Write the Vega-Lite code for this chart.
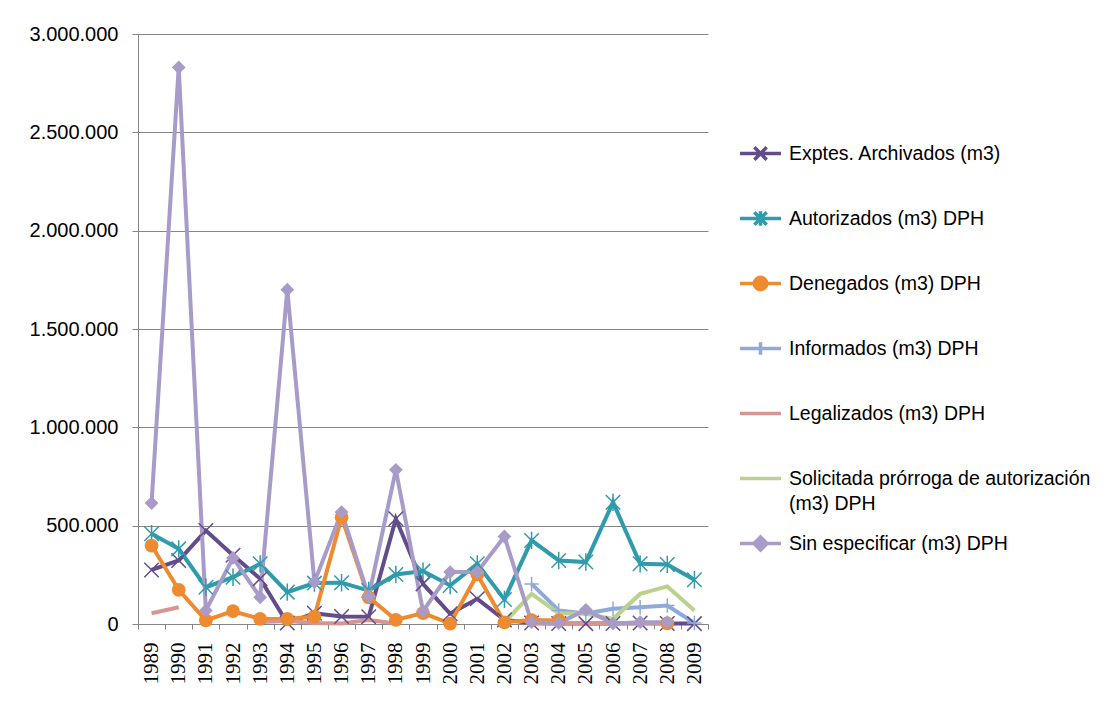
{
  "$schema": "https://vega.github.io/schema/vega-lite/v6.json",
  "width": 570,
  "height": 590,
  "autosize": {"type": "none"},
  "padding": {"left": 138, "top": 34, "right": 397, "bottom": 80},
  "background": "white",
  "config": {
    "view": {"stroke": null},
    "font": "Liberation Sans",
    "locale": {"number": {"decimal": ",", "thousands": ".", "grouping": [3], "currency": ["", " €"]}}
  },
  "data": {"values": [
    {"series": "Exptes. Archivados (m3)", "year": "1989", "value": 275000},
    {"series": "Exptes. Archivados (m3)", "year": "1990", "value": 323000},
    {"series": "Exptes. Archivados (m3)", "year": "1991", "value": 475000},
    {"series": "Exptes. Archivados (m3)", "year": "1992", "value": 350000},
    {"series": "Exptes. Archivados (m3)", "year": "1993", "value": 230000},
    {"series": "Exptes. Archivados (m3)", "year": "1994", "value": 5000},
    {"series": "Exptes. Archivados (m3)", "year": "1995", "value": 55000},
    {"series": "Exptes. Archivados (m3)", "year": "1996", "value": 38000},
    {"series": "Exptes. Archivados (m3)", "year": "1997", "value": 37000},
    {"series": "Exptes. Archivados (m3)", "year": "1998", "value": 535000},
    {"series": "Exptes. Archivados (m3)", "year": "1999", "value": 204000},
    {"series": "Exptes. Archivados (m3)", "year": "2000", "value": 52000},
    {"series": "Exptes. Archivados (m3)", "year": "2001", "value": 128000},
    {"series": "Exptes. Archivados (m3)", "year": "2002", "value": 21000},
    {"series": "Exptes. Archivados (m3)", "year": "2003", "value": 5000},
    {"series": "Exptes. Archivados (m3)", "year": "2004", "value": 3000},
    {"series": "Exptes. Archivados (m3)", "year": "2005", "value": 2000},
    {"series": "Exptes. Archivados (m3)", "year": "2006", "value": 3000},
    {"series": "Exptes. Archivados (m3)", "year": "2007", "value": 5000},
    {"series": "Exptes. Archivados (m3)", "year": "2008", "value": 3000},
    {"series": "Exptes. Archivados (m3)", "year": "2009", "value": 2000},
    {"series": "Autorizados (m3) DPH", "year": "1989", "value": 459000},
    {"series": "Autorizados (m3) DPH", "year": "1990", "value": 382000},
    {"series": "Autorizados (m3) DPH", "year": "1991", "value": 187000},
    {"series": "Autorizados (m3) DPH", "year": "1992", "value": 238000},
    {"series": "Autorizados (m3) DPH", "year": "1993", "value": 306000},
    {"series": "Autorizados (m3) DPH", "year": "1994", "value": 162000},
    {"series": "Autorizados (m3) DPH", "year": "1995", "value": 208000},
    {"series": "Autorizados (m3) DPH", "year": "1996", "value": 210000},
    {"series": "Autorizados (m3) DPH", "year": "1997", "value": 170000},
    {"series": "Autorizados (m3) DPH", "year": "1998", "value": 252000},
    {"series": "Autorizados (m3) DPH", "year": "1999", "value": 269000},
    {"series": "Autorizados (m3) DPH", "year": "2000", "value": 196000},
    {"series": "Autorizados (m3) DPH", "year": "2001", "value": 306000},
    {"series": "Autorizados (m3) DPH", "year": "2002", "value": 125000},
    {"series": "Autorizados (m3) DPH", "year": "2003", "value": 425000},
    {"series": "Autorizados (m3) DPH", "year": "2004", "value": 323000},
    {"series": "Autorizados (m3) DPH", "year": "2005", "value": 315000},
    {"series": "Autorizados (m3) DPH", "year": "2006", "value": 619000},
    {"series": "Autorizados (m3) DPH", "year": "2007", "value": 306000},
    {"series": "Autorizados (m3) DPH", "year": "2008", "value": 303000},
    {"series": "Autorizados (m3) DPH", "year": "2009", "value": 225000},
    {"series": "Denegados (m3) DPH", "year": "1989", "value": 399000},
    {"series": "Denegados (m3) DPH", "year": "1990", "value": 174000},
    {"series": "Denegados (m3) DPH", "year": "1991", "value": 18000},
    {"series": "Denegados (m3) DPH", "year": "1992", "value": 65000},
    {"series": "Denegados (m3) DPH", "year": "1993", "value": 26000},
    {"series": "Denegados (m3) DPH", "year": "1994", "value": 26000},
    {"series": "Denegados (m3) DPH", "year": "1995", "value": 38000},
    {"series": "Denegados (m3) DPH", "year": "1996", "value": 543000},
    {"series": "Denegados (m3) DPH", "year": "1997", "value": 136000},
    {"series": "Denegados (m3) DPH", "year": "1998", "value": 21000},
    {"series": "Denegados (m3) DPH", "year": "1999", "value": 55000},
    {"series": "Denegados (m3) DPH", "year": "2000", "value": 2000},
    {"series": "Denegados (m3) DPH", "year": "2001", "value": 252000},
    {"series": "Denegados (m3) DPH", "year": "2002", "value": 8000},
    {"series": "Denegados (m3) DPH", "year": "2003", "value": 20000},
    {"series": "Denegados (m3) DPH", "year": "2004", "value": 18000},
    {"series": "Denegados (m3) DPH", "year": "2005", "value": null},
    {"series": "Denegados (m3) DPH", "year": "2006", "value": null},
    {"series": "Denegados (m3) DPH", "year": "2007", "value": null},
    {"series": "Denegados (m3) DPH", "year": "2008", "value": 3000},
    {"series": "Informados (m3) DPH", "year": "2003", "value": 204000},
    {"series": "Informados (m3) DPH", "year": "2004", "value": 69000},
    {"series": "Informados (m3) DPH", "year": "2005", "value": 53000},
    {"series": "Informados (m3) DPH", "year": "2006", "value": 77000},
    {"series": "Informados (m3) DPH", "year": "2007", "value": 85000},
    {"series": "Informados (m3) DPH", "year": "2008", "value": 94000},
    {"series": "Informados (m3) DPH", "year": "2009", "value": 5000},
    {"series": "Legalizados (m3) DPH", "year": "1989", "value": 55000},
    {"series": "Legalizados (m3) DPH", "year": "1990", "value": 85000},
    {"series": "Legalizados (m3) DPH", "year": "1991", "value": null},
    {"series": "Legalizados (m3) DPH", "year": "1992", "value": null},
    {"series": "Legalizados (m3) DPH", "year": "1993", "value": 10000},
    {"series": "Legalizados (m3) DPH", "year": "1994", "value": 15000},
    {"series": "Legalizados (m3) DPH", "year": "1995", "value": 5000},
    {"series": "Legalizados (m3) DPH", "year": "1996", "value": 3000},
    {"series": "Legalizados (m3) DPH", "year": "1997", "value": 20000},
    {"series": "Legalizados (m3) DPH", "year": "1998", "value": 3000},
    {"series": "Legalizados (m3) DPH", "year": "1999", "value": null},
    {"series": "Legalizados (m3) DPH", "year": "2003", "value": 3000},
    {"series": "Legalizados (m3) DPH", "year": "2004", "value": 2000},
    {"series": "Legalizados (m3) DPH", "year": "2005", "value": 5000},
    {"series": "Legalizados (m3) DPH", "year": "2006", "value": 2000},
    {"series": "Legalizados (m3) DPH", "year": "2007", "value": 3000},
    {"series": "Legalizados (m3) DPH", "year": "2008", "value": 2000},
    {"series": "Solicitada prórroga de autorización (m3) DPH", "year": "2002", "value": 9000},
    {"series": "Solicitada prórroga de autorización (m3) DPH", "year": "2003", "value": 153000},
    {"series": "Solicitada prórroga de autorización (m3) DPH", "year": "2004", "value": 55000},
    {"series": "Solicitada prórroga de autorización (m3) DPH", "year": "2005", "value": 52000},
    {"series": "Solicitada prórroga de autorización (m3) DPH", "year": "2006", "value": 25000},
    {"series": "Solicitada prórroga de autorización (m3) DPH", "year": "2007", "value": 153000},
    {"series": "Solicitada prórroga de autorización (m3) DPH", "year": "2008", "value": 191000},
    {"series": "Solicitada prórroga de autorización (m3) DPH", "year": "2009", "value": 69000},
    {"series": "Sin especificar (m3) DPH", "year": "1989", "value": 615000},
    {"series": "Sin especificar (m3) DPH", "year": "1990", "value": 2830000},
    {"series": "Sin especificar (m3) DPH", "year": "1991", "value": 69000},
    {"series": "Sin especificar (m3) DPH", "year": "1992", "value": 336000},
    {"series": "Sin especificar (m3) DPH", "year": "1993", "value": 136000},
    {"series": "Sin especificar (m3) DPH", "year": "1994", "value": 1700000},
    {"series": "Sin especificar (m3) DPH", "year": "1995", "value": 213000},
    {"series": "Sin especificar (m3) DPH", "year": "1996", "value": 569000},
    {"series": "Sin especificar (m3) DPH", "year": "1997", "value": 140000},
    {"series": "Sin especificar (m3) DPH", "year": "1998", "value": 784000},
    {"series": "Sin especificar (m3) DPH", "year": "1999", "value": 65000},
    {"series": "Sin especificar (m3) DPH", "year": "2000", "value": 264000},
    {"series": "Sin especificar (m3) DPH", "year": "2001", "value": 264000},
    {"series": "Sin especificar (m3) DPH", "year": "2002", "value": 445000},
    {"series": "Sin especificar (m3) DPH", "year": "2003", "value": 9000},
    {"series": "Sin especificar (m3) DPH", "year": "2004", "value": 5000},
    {"series": "Sin especificar (m3) DPH", "year": "2005", "value": 72000},
    {"series": "Sin especificar (m3) DPH", "year": "2006", "value": 3000},
    {"series": "Sin especificar (m3) DPH", "year": "2007", "value": 9000},
    {"series": "Sin especificar (m3) DPH", "year": "2008", "value": 9000}
  ]},
  "encoding": {
    "x": {
      "field": "year", "type": "ordinal",
      "scale": {"type": "band", "paddingInner": 0, "paddingOuter": 0},
      "axis": {
        "title": null, "labelAngle": -90, "labelFont": "Liberation Serif", "labelFontSize": 21,
        "labelColor": "black", "labelPadding": 13, "tickBand": "extent", "tickSize": 5,
        "tickColor": "#868686", "domainColor": "#868686", "grid": false, "labelOverlap": false
      }
    },
    "y": {
      "field": "value", "type": "quantitative",
      "scale": {"domain": [0, 3000000], "nice": false},
      "axis": {
        "title": null, "values": [0, 500000, 1000000, 1500000, 2000000, 2500000, 3000000],
        "format": ",d", "labelFont": "Liberation Sans", "labelFontSize": 20, "labelColor": "black",
        "labelPadding": 14, "tickSize": 6, "tickColor": "#868686", "domainColor": "#868686",
        "gridColor": "#868686", "gridWidth": 1
      }
    },
    "color": {
      "field": "series", "type": "nominal",
      "scale": {
        "domain": ["Exptes. Archivados (m3)", "Autorizados (m3) DPH", "Denegados (m3) DPH", "Informados (m3) DPH", "Legalizados (m3) DPH", "Solicitada prórroga de autorización (m3) DPH", "Sin especificar (m3) DPH"],
        "range": ["#634C8A", "#2F9BAB", "#EE8A30", "#8FAAD9", "#D59591", "#B9D38F", "#A99BC8"]
      },
      "legend": {
        "orient": "none", "legendX": 600, "legendY": 97, "title": null, "padding": 0,
        "symbolSize": 1681, "symbolStrokeWidth": 3.5, "labelFont": "Liberation Sans",
        "labelFontSize": 19.5, "labelColor": "black", "labelLimit": 400, "labelOffset": 6,
        "rowPadding": 0,
        "labelExpr": "datum.label == 'Solicitada prórroga de autorización (m3) DPH' ? ['Solicitada prórroga de autorización', '(m3) DPH'] : datum.label",
        "encode": {
          "symbols": {"update": {
            "shape": {"signal": "{'Exptes. Archivados (m3)': 'M0,-0.9M0,1.55M-1,0L1,0M-0.3,-0.3L0.3,0.3M-0.3,0.3L0.3,-0.3', 'Autorizados (m3) DPH': 'M0,-0.9M0,1.55M-1,0L1,0M-0.3,-0.3L0.3,0.3M-0.3,0.3L0.3,-0.3M0,-0.35L0,0.35', 'Denegados (m3) DPH': 'M0,-0.9M0,1.55M-1,0L1,0M0.3,0A0.3,0.3 0 1,1 -0.3,0A0.3,0.3 0 1,1 0.3,0Z', 'Informados (m3) DPH': 'M0,-0.9M0,1.55M-1,0L1,0M0,-0.3L0,0.3', 'Legalizados (m3) DPH': 'M0,-0.9M0,1.55M-1,0L1,0', 'Solicitada prórroga de autorización (m3) DPH': 'M0,-0.9M0,1.55M-1,0L1,0', 'Sin especificar (m3) DPH': 'M0,-0.9M0,1.55M-1,0L1,0M0,-0.32L0.32,0L0,0.32L-0.32,0Z'}[datum.value]"},
            "fill": {"signal": "indexof(['Denegados (m3) DPH', 'Sin especificar (m3) DPH'], datum.value) >= 0 ? scale('color', datum.value) : 'transparent'"},
            "stroke": {"scale": "color", "field": "value"},
            "strokeWidth": {"value": 3.5},
            "opacity": {"value": 1}
          }},
          "labels": {"update": {
            "lineHeight": {"value": 25}
          }}
        }
      }
    }
  },
  "layer": [
    {
      "mark": {"type": "line", "strokeWidth": 4, "invalid": "break-paths-show-domains"}
    },
    {
      "transform": [{"filter": "indexof(['Exptes. Archivados (m3)', 'Autorizados (m3) DPH', 'Informados (m3) DPH'], datum.series) >= 0 && isValid(datum.value)"}],
      "mark": {"type": "point", "filled": false, "size": 210, "strokeWidth": 1.5, "opacity": 1},
      "encoding": {
        "shape": {
          "field": "series", "type": "nominal", "legend": null,
          "scale": {
            "domain": ["Exptes. Archivados (m3)", "Autorizados (m3) DPH", "Informados (m3) DPH", "Denegados (m3) DPH", "Sin especificar (m3) DPH"],
            "range": ["M-1,-1L1,1M-1,1L1,-1", "M-1,-1L1,1M-1,1L1,-1M0,-1.2L0,1.2", "M-1,0L1,0M0,-1L0,1", "circle", "diamond"]
          }
        }
      }
    },
    {
      "transform": [{"filter": "indexof(['Denegados (m3) DPH', 'Sin especificar (m3) DPH'], datum.series) >= 0 && isValid(datum.value)"}],
      "mark": {"type": "point", "filled": true, "size": 190, "opacity": 1},
      "encoding": {
        "shape": {
          "field": "series", "type": "nominal", "legend": null,
          "scale": {
            "domain": ["Exptes. Archivados (m3)", "Autorizados (m3) DPH", "Informados (m3) DPH", "Denegados (m3) DPH", "Sin especificar (m3) DPH"],
            "range": ["M-1,-1L1,1M-1,1L1,-1", "M-1,-1L1,1M-1,1L1,-1M0,-1.2L0,1.2", "M-1,0L1,0M0,-1L0,1", "circle", "diamond"]
          }
        }
      }
    }
  ]
}
